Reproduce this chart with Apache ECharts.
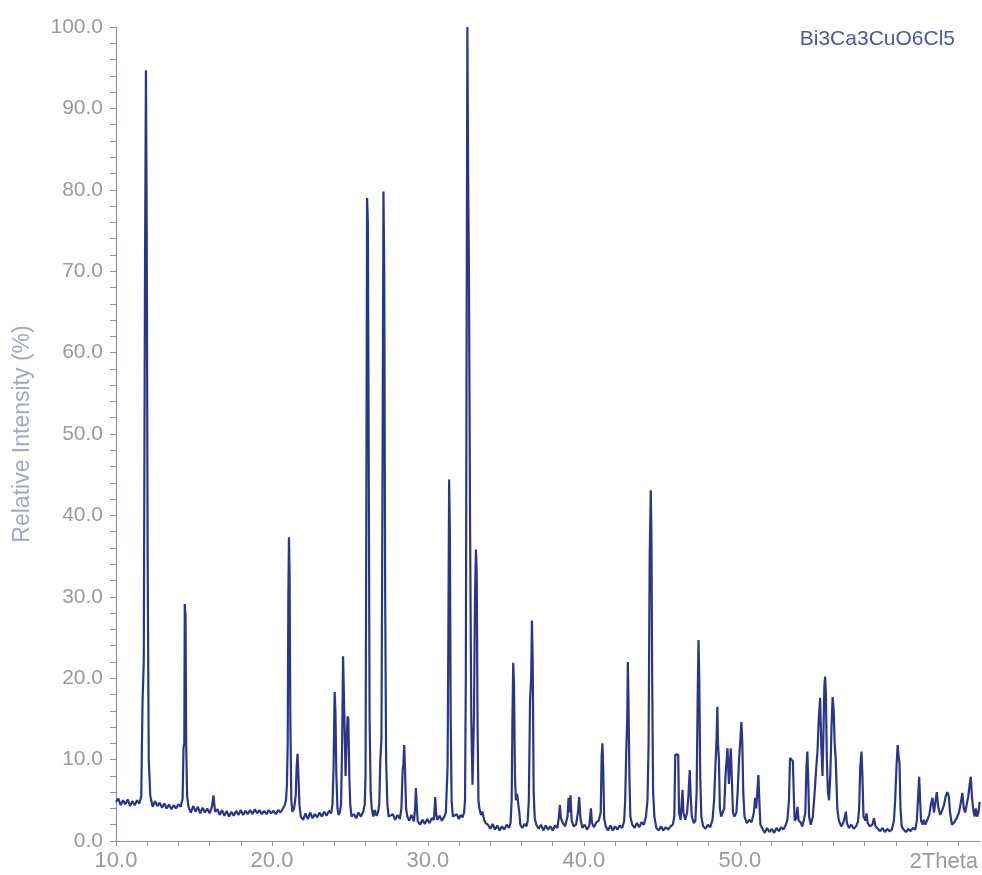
<!DOCTYPE html>
<html>
<head>
<meta charset="utf-8">
<title>Bi3Ca3CuO6Cl5</title>
<script src="https://cdn.jsdelivr.net/npm/echarts@6/dist/echarts.min.js"></script>
<style>
    html, body { margin: 0; padding: 0; background: #fff; }
    #container { width: 982px; height: 875px; }
</style>
</head>
<body>
<div id="container"></div>
<script>
var PhaseName = 'Bi3Ca3CuO6Cl5';
var XLabelValues = [10, 20, 30, 40, 50];   // 60 is taken by the "2Theta" caption
var YLabelValues = [0, 10, 20, 30, 40, 50, 60, 70, 80, 90, 100];

// [2theta, relative intensity %]
var scan10to20 = [
    [10.0,4.8],[10.15,5.2],[10.3,4.4],[10.45,5.0],[10.6,4.5],[10.75,5.1],[10.9,4.3],[11.05,4.9],[11.2,4.4],[11.35,5.0],[11.5,4.6],
    [11.62,5.5],[11.7,17],[11.78,22],[11.86,70],[11.92,94.7],[11.97,75],[12.03,35],[12.1,10],[12.2,5.5],
    [12.35,4.2],[12.5,4.9],[12.65,4.3],[12.8,4.7],[12.95,4.1],[13.1,4.6],[13.25,4.0],[13.4,4.5],[13.55,3.9],[13.7,4.4],[13.85,4.0],[14.0,4.5],[14.15,4.2],
    [14.27,5.2],[14.33,11.5],[14.38,12],[14.41,29.1],[14.46,27.5],[14.5,12],[14.56,5.5],[14.65,4.2],
    [14.8,3.5],[14.95,4.3],[15.1,3.6],[15.25,4.2],[15.4,3.4],[15.55,4.1],[15.7,3.5],[15.85,4.0],[16.0,3.4],[16.15,4.2],[16.25,5.6],[16.35,3.6],
    [16.5,3.9],[16.65,3.2],[16.8,3.8],[16.95,3.1],[17.1,3.7],[17.25,3.0],[17.4,3.6],[17.55,3.1],[17.7,3.7],[17.85,3.2],[18.0,3.8],[18.15,3.2],
    [18.3,3.7],[18.45,3.3],[18.6,3.8],[18.75,3.3],[18.9,3.9],[19.05,3.4],[19.2,3.8],[19.35,3.3],[19.5,3.7],[19.65,3.3],[19.8,3.8],[19.95,3.4]
];
var scan20to30 = [
    [20.1,3.7],[20.25,3.3],[20.4,3.8],[20.55,3.5],[20.7,4.0],[20.82,4.4],
    [20.9,5.0],[20.96,6.8],[21.01,12],[21.05,30],[21.09,37.3],[21.13,33],[21.18,15],[21.24,5],[21.31,3.6],
    [21.42,4.0],[21.52,5.5],[21.58,9],[21.64,10.7],[21.7,8],[21.76,4.5],[21.85,3.0],
    [22.0,2.6],[22.15,3.4],[22.3,2.7],[22.45,3.5],[22.6,2.8],[22.75,3.3],[22.9,2.9],[23.05,3.5],[23.2,3.0],[23.35,3.6],[23.5,3.1],[23.65,3.7],[23.8,3.4],
    [23.88,4.5],[23.95,9],[24.02,18.3],[24.07,16],[24.13,8],[24.2,4.0],[24.27,3.2],
    [24.36,3.6],[24.43,4.5],[24.5,12],[24.56,22.7],[24.63,22.5],[24.68,12],[24.72,8],[24.78,12],[24.85,15.3],[24.9,15.0],[24.96,8],[25.02,4.5],[25.1,3.0],
    [25.25,3.3],[25.4,2.8],[25.55,3.5],[25.7,3.0],[25.85,3.6],
    [25.95,4.5],[26.0,8],[26.05,40],[26.1,79.0],[26.15,76],[26.2,50],[26.26,15],[26.33,6],[26.4,4.0],
    [26.5,3.0],[26.6,3.8],[26.7,3.1],[26.8,3.5],
    [26.88,4.5],[26.95,10],[27.02,12.5],[27.08,40],[27.15,79.8],[27.2,70],[27.26,30],[27.32,10],[27.4,4.5],[27.48,3.0],
    [27.6,2.8],[27.75,3.3],[27.9,2.6],[28.05,3.2],[28.2,2.7],
    [28.3,4.0],[28.38,8.7],[28.43,9.5],[28.48,11.8],[28.53,9],[28.6,4],[28.68,3.0],
    [28.8,2.5],[28.95,3.2],[29.1,2.4],[29.18,4.0],[29.23,6.5],[29.28,4.5],[29.35,2.4],
    [29.5,2.0],[29.65,2.6],[29.8,2.1],[29.95,2.7]
];
var scan30to40 = [
    [30.1,2.2],[30.25,2.8],[30.38,2.6],[30.43,4.0],[30.47,5.4],[30.52,3.5],[30.6,2.6],[30.75,3.1],[30.9,2.5],[31.05,3.0],[31.15,3.5],
    [31.2,6],[31.26,9.1],[31.31,25],[31.36,44.4],[31.41,38],[31.46,15],[31.52,5],[31.6,3.0],
    [31.72,2.8],[31.85,3.3],[31.98,2.7],[32.1,3.2],[32.22,2.9],[32.32,3.5],
    [32.38,5],[32.43,20],[32.48,60],[32.53,100],[32.58,82],[32.63,70],[32.7,40],[32.78,15],[32.86,6.9],
    [32.95,15],[33.02,30],[33.08,35.8],[33.13,33],[33.18,15],[33.24,5],[33.3,4.0],
    [33.4,3.2],[33.5,3.6],[33.6,2.6],[33.7,2.2],
    [33.85,2.0],[34.0,1.5],[34.15,2.1],[34.3,1.4],[34.45,1.9],[34.6,1.3],[34.75,1.8],[34.9,1.4],[35.05,2.0],[35.2,1.6],[35.3,2.2],
    [35.37,5],[35.42,15],[35.47,21.9],[35.52,19.4],[35.58,8],[35.64,5.0],[35.72,5.8],[35.8,6.0],[35.86,3.5],[35.93,2.0],
    [36.05,1.6],[36.2,2.1],[36.32,1.8],
    [36.4,2.5],[36.47,5],[36.55,17.3],[36.62,20],[36.67,27.1],[36.72,22],[36.78,6],[36.85,2.8],
    [36.95,2.0],[37.1,1.5],[37.25,2.0],[37.4,1.3],[37.55,1.9],[37.7,1.4],[37.85,1.8],[38.0,1.3],[38.15,1.9],[38.3,1.6],
    [38.4,3.0],[38.46,4.4],[38.53,2.8],[38.65,2.2],[38.8,1.8],[38.95,3.0],[39.02,5.3],[39.08,3.5],[39.14,5.6],[39.22,2.5],
    [39.35,1.8],[39.5,2.0],[39.62,3.5],[39.7,5.4],[39.78,2.8],[39.9,1.6]
];
var scan40to50 = [
    [40.05,2.0],[40.2,1.4],[40.35,1.9],[40.45,4.0],[40.52,2.2],[40.65,1.7],[40.8,2.3],[40.95,2.5],
    [41.08,3.5],[41.14,10.5],[41.19,12.0],[41.24,9],[41.3,2.8],
    [41.4,1.8],[41.55,1.3],[41.7,1.9],[41.85,1.3],[42.0,1.8],[42.15,1.4],[42.3,1.9],[42.45,1.6],[42.58,2.4],
    [42.65,5],[42.72,11.2],[42.78,15],[42.82,22.0],[42.86,17.3],[42.92,8],[42.98,3.0],
    [43.1,2.0],[43.25,1.6],[43.4,2.2],[43.55,1.7],[43.7,2.3],[43.85,2.0],[43.98,3.0],
    [44.08,5],[44.15,12],[44.22,35],[44.29,43.1],[44.33,38],[44.38,20],[44.44,6],[44.52,3.0],
    [44.65,1.6],[44.8,1.3],[44.95,1.8],[45.1,1.3],[45.25,1.7],[45.4,1.4],[45.55,1.8],[45.7,2.0],
    [45.8,3.0],[45.86,10.6],[45.95,10.4],[46.05,10.6],[46.1,3.5],
    [46.2,2.6],[46.28,5.0],[46.33,6.3],[46.38,3.5],[46.5,2.6],
    [46.62,3.5],[46.7,5.5],[46.79,8.7],[46.85,5.5],[46.92,3.0],
    [47.05,2.2],[47.15,2.5],[47.23,6],[47.3,18],[47.35,24.7],[47.4,20],[47.46,8],[47.53,3.0],
    [47.65,1.8],[47.8,1.5],[47.95,2.0],[48.1,1.7],[48.25,2.6],
    [48.35,5],[48.44,9.5],[48.5,12],[48.56,16.5],[48.6,12],[48.66,10],[48.72,4],[48.8,3.0],
    [48.9,3.5],[49.0,4],[49.08,8],[49.21,11.4],[49.3,7],[49.42,11.4],[49.5,7],[49.56,3.5],[49.65,3.0],
    [49.78,3.5],[49.86,6],[49.95,10]
];
var scan50to65 = [
    [50.02,12],[50.1,14.6],[50.16,12],[50.22,6],[50.3,3.0],
    [50.45,2.2],[50.6,2.6],[50.75,2.3],[50.9,3.5],[50.98,5.3],[51.05,4.0],[51.12,6],[51.19,8.1],[51.25,5],[51.32,2.0],
    [51.45,1.5],[51.6,1.0],[51.75,1.6],[51.9,1.1],[52.05,1.5],[52.2,1.0],[52.35,1.6],[52.5,1.2],[52.65,1.7],[52.8,1.4],[52.95,2.0],[53.05,2.6],
    [53.15,5],[53.22,10.2],[53.3,10.0],[53.4,9.8],[53.47,5],[53.52,2.5],
    [53.62,2.8],[53.7,4.2],[53.77,2.5],
    [53.9,2.3],[54.0,1.8],[54.1,2.5],[54.2,3.5],[54.27,9],[54.33,11.0],[54.38,8],[54.44,3.0],
    [54.55,2.0],[54.68,3.0],[54.78,5.5],[54.9,9],[54.98,11],[55.06,15],[55.15,17.6],[55.22,12],[55.3,8],[55.36,13],[55.42,19],[55.47,20.2],
    [55.52,18],[55.58,10],[55.65,6],[55.72,5.0],[55.8,8],[55.88,14],[55.95,17.7],[56.02,16],[56.08,12],[56.15,10],[56.25,4],[56.35,2.5],
    [56.5,1.8],[56.62,2.2],[56.72,2.8],[56.8,3.6],[56.87,2.2],[57.0,1.6],[57.15,2.0],[57.3,1.5],[57.45,1.8],[57.58,2.4],
    [57.65,4],[57.72,9],[57.8,11.0],[57.86,8],[57.93,3.0],
    [58.05,2.5],[58.12,3.4],[58.2,2.2],[58.35,1.8],[58.5,2.0],[58.6,2.8],[58.7,1.8],[58.85,1.5],[59.0,1.2],[59.15,1.6],[59.3,1.1],[59.45,1.5],[59.6,1.2],[59.75,1.4],[59.88,2.5],
    [59.96,5],[60.04,9],[60.12,11.8],[60.18,10.5],[60.24,9.5],[60.3,4],[60.38,1.8],
    [60.5,1.4],[60.65,1.1],[60.8,1.5],[60.95,1.2],[61.1,1.6],[61.25,1.4],[61.35,2.5],
    [61.42,5],[61.5,7.9],[61.56,5],[61.62,2.5],[61.72,2.0],[61.8,2.6],[61.9,2.0],
    [62.0,2.5],[62.15,3.2],[62.25,4.5],[62.35,5.3],[62.45,3.5],[62.55,5.0],[62.63,6.0],[62.72,4.2],[62.85,3.2],[62.98,3.8],
    [63.1,4.5],[63.2,5.5],[63.31,6.0],[63.4,5.5],[63.48,3.5],[63.6,2.0],[63.75,2.3],[63.9,2.8],
    [64.05,3.5],[64.15,4.5],[64.27,5.9],[64.36,4.0],[64.45,3.5],[64.55,4.5],[64.65,5.5],[64.74,7.0],[64.81,7.9],[64.88,5.5],
    [64.96,4.0],[65.05,3.0],[65.13,4.0],[65.22,3.0],[65.3,3.5],[65.38,4.8]
];

var LabelFont = 'Liberation Sans';
var LabelColor = '#9a9a9a';
var AxisColor = '#8e92b0';

/*==========================================
 * 是否是需要显示的刻度值
 */
function inList(list, v) {
    for (var i = 0, l = list.length; i < l; i++) {
        if (Math.abs(list[i] - v) < 1e-6) return true;
    };
    return false;
};

$ready();

function $ready() {
    var scanData = [].concat(scan10to20, scan20to30, scan30to40, scan40to50, scan50to65);
    var myChart = echarts.init(document.getElementById('container'), null, { renderer: 'canvas' });

    var baseOption = {
        animation: false,
        backgroundColor: '#ffffff',
        title: {
            text: PhaseName,
            right: 22,
            top: 24,
            textStyle: {
                color: '#4b57a4',
                fontFamily: LabelFont,
                fontWeight: 'normal',
                fontSize: 21
            }
        },
        grid: {
            left: 116,
            right: 2,
            top: 27,
            bottom: 34
        },
        xAxis: {
            type: 'value',
            min: 10,
            max: 65.4,
            interval: 2,
            axisLine: { lineStyle: { color: AxisColor, width: 1.2 } },
            axisTick: { length: 5, lineStyle: { color: AxisColor } },
            splitLine: { show: false },
            axisLabel: {
                margin: 9,
                color: LabelColor,
                fontFamily: LabelFont,
                fontSize: 22,
                showMaxLabel: false,
                formatter: function(v) {
                    return inList(XLabelValues, v) ? v.toFixed(1) : '';
                }
            }
        },
        yAxis: {
            type: 'value',
            min: 0,
            max: 100,
            interval: 2,
            name: 'Relative Intensity (%)',
            nameLocation: 'middle',
            nameGap: 82,
            nameRotate: 90,
            nameTextStyle: {
                color: '#a2a8c6',
                fontFamily: LabelFont,
                fontSize: 23
            },
            axisLine: { show: true, lineStyle: { color: AxisColor, width: 1.2 } },
            axisTick: { show: true, length: 6, lineStyle: { color: AxisColor } },
            splitLine: { show: false },
            axisLabel: {
                margin: 13,
                color: LabelColor,
                fontFamily: LabelFont,
                fontSize: 21,
                formatter: function(v) {
                    return inList(YLabelValues, v) ? v.toFixed(1) : '';
                }
            }
        },
        graphic: [{
            type: 'text',
            right: 4,
            top: 851,
            style: {
                text: '2Theta',
                fill: LabelColor,
                font: '22px "Liberation Sans"'
            }
        }],
        series: [{
            type: 'line',
            data: scanData,
            showSymbol: false,
            symbol: 'none',
            lineStyle: { color: '#2b3688', width: 2.2 },
            clip: true
        }]
    };

    myChart.setOption(baseOption, true);
};
</script>
</body>
</html>
